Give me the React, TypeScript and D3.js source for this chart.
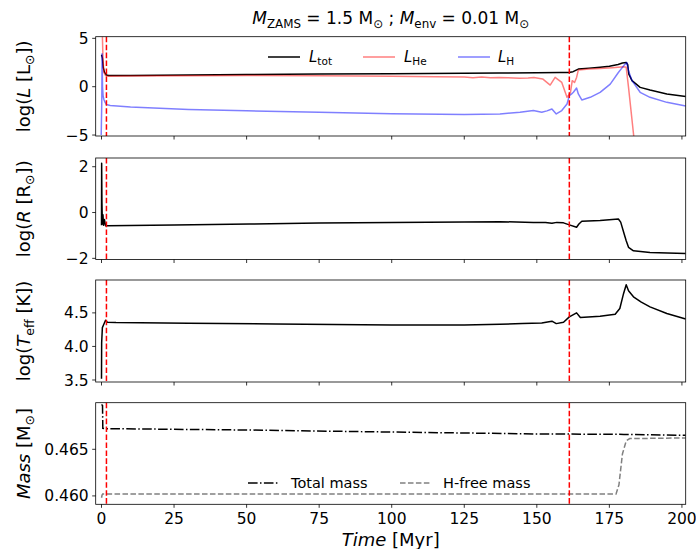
import React from "react";
import * as d3 from "d3";

// ---------- data ----------
const xTicks = [0, 25, 50, 75, 100, 125, 150, 175, 200];
const redLines = [1.7, 161.2];

const lTotT = [0, 0.3, 0.6, 1.0, 1.7, 2.5, 10, 30, 50, 75, 100, 125, 137, 150, 158, 161, 162.5, 164.3, 168, 171.8, 175, 178, 179.5, 180.8, 181.3, 181.7, 182.8, 185.6, 189, 194.8, 201.3];
const lTotV = [3.3, 3.0, 2.0, 1.5, 1.2, 1.15, 1.17, 1.22, 1.26, 1.31, 1.35, 1.39, 1.41, 1.44, 1.46, 1.47, 1.55, 1.82, 1.92, 2.02, 2.12, 2.3, 2.45, 2.5, 2.3, 1.3, 0.62, -0.07, -0.35, -0.75, -1.02];

const lHeT = [0, 0.3, 0.5, 0.8, 1.2, 1.7, 2.5, 10, 30, 50, 75, 100, 115, 125, 128, 131, 134, 137, 140, 144, 147, 149, 152, 154.6, 156.3, 158.6, 160.4, 161.6, 162.2, 163, 163.7, 164.3, 168, 171.8, 176, 179.9, 180.8, 181.6, 183.5];
const lHeV = [5.5, 5.3, 3.0, 1.5, 1.25, 1.1, 1.08, 1.1, 1.14, 1.15, 1.13, 1.08, 1.04, 1.0, 0.93, 1.0, 0.92, 0.96, 0.93, 0.86, 0.9, 0.96, 0.8, 0.17, 0.96, 0.44, -1.1, -0.6, 0.62, 0.44, 0.96, 1.72, 1.82, 1.89, 1.97, 2.06, 2.0, -0.07, -5.4];

const lHT = [-0.1, 0.1, 0.2, 0.35, 0.55, 0.8, 1.2, 1.7, 3, 10, 30, 50, 75, 100, 125, 137.3, 140, 144.2, 148.8, 151.7, 153.5, 155.2, 156.7, 158.6, 160.4, 161.2, 162, 162.6, 163.7, 164.3, 165.5, 168.4, 171.8, 175.3, 178.1, 180.1, 181, 181.6, 182.8, 185.6, 189, 194.8, 201.3];
const lHV = [-5.0, -1.5, 3.4, 0.0, -0.95, -1.3, -1.6, -1.85, -1.95, -2.1, -2.35, -2.5, -2.65, -2.8, -2.88, -2.82, -2.75, -2.65, -2.47, -2.65, -2.5, -2.3, -2.82, -2.47, -1.79, -0.93, -0.75, -0.58, -0.14, -0.75, -1.37, -1.1, -0.58, 0.27, 1.47, 2.23, 2.5, 1.65, 0.62, -0.58, -1.1, -1.62, -2.0];

const rT = [0, 0.05, 0.15, 0.3, 0.5, 0.7, 1.0, 1.4, 2, 25, 51, 75, 100, 125, 137.3, 148.8, 153, 155.2, 156.9, 159.2, 161.2, 163.7, 164.5, 165.5, 171.8, 178.1, 178.9, 180.1, 180.8, 181.6, 183.3, 189, 195, 201.3];
const rV = [-0.55, 2.15, 0.45, -0.5, -0.1, -0.55, -0.3, -0.58, -0.58, -0.54, -0.5, -0.46, -0.43, -0.41, -0.40, -0.43, -0.44, -0.47, -0.43, -0.45, -0.54, -0.64, -0.5, -0.38, -0.35, -0.28, -0.42, -0.94, -1.23, -1.52, -1.67, -1.74, -1.77, -1.79];

const tT = [0, 0.05, 0.3, 0.8, 1.4, 2, 5, 30, 60, 100, 125, 137.3, 145, 151.7, 155.2, 156.7, 159.2, 161.2, 163.7, 165, 171.8, 177, 178.6, 179.9, 180.8, 181.6, 183.3, 186, 189, 194.8, 201.3];
const tV = [3.52, 4.05, 4.28, 4.33, 4.39, 4.36, 4.355, 4.345, 4.335, 4.32, 4.32, 4.33, 4.34, 4.35, 4.376, 4.34, 4.36, 4.44, 4.5, 4.43, 4.45, 4.48, 4.565, 4.79, 4.92, 4.83, 4.74, 4.66, 4.59, 4.49, 4.41];

const mTotT = [0, 0.35, 0.45, 1, 50, 100, 150, 180, 201.3];
const mTotV = [0.4698, 0.4697, 0.46725, 0.46722, 0.46707, 0.46685, 0.46665, 0.4666, 0.4665];

const mHT = [0, 0.2, 0.4, 177.3, 178.3, 179.5, 180.8, 182, 201.3];
const mHV = [0.4598, 0.4601, 0.46021, 0.46021, 0.4612, 0.4645, 0.4659, 0.46615, 0.46622];

const yTicks1 = [-5, 0, 5];
const yTicks2 = [-2, 0, 2];
const yTicks3 = [3.5, 4.0, 4.5];
const yTicks4 = [0.46, 0.465];

// ---------- layout ----------
const W = 696, H = 549;
const X0 = 95.7, X1 = 685.7;
const FONT = "DejaVu Sans";

const x = d3.scaleLinear().domain([-2.0, 201.3]).range([X0, X1]);

const panels = [
  { top: 36.7, bottom: 136, domain: [-5.1, 5.17], ticks: yTicks1, fmt: (v: number) => (v < 0 ? "\u2212" + Math.abs(v) : String(v)) },
  { top: 158, bottom: 259.5, domain: [-2.05, 2.38], ticks: yTicks2, fmt: (v: number) => (v < 0 ? "\u2212" + Math.abs(v) : String(v)) },
  { top: 280, bottom: 382, domain: [3.47, 4.99], ticks: yTicks3, fmt: (v: number) => v.toFixed(1) },
  { top: 402.7, bottom: 504.3, domain: [0.4591, 0.47], ticks: yTicks4, fmt: (v: number) => v.toFixed(3) },
];
const yScales = panels.map((p) => d3.scaleLinear().domain(p.domain).range([p.bottom, p.top]));

function pathOf(ts: number[], vs: number[], y: d3.ScaleLinear<number, number>) {
  const line = d3.line<number>().x((_, i) => x(ts[i])).y((_, i) => y(vs[i]));
  return line(ts.map((_, i) => i)) || "";
}

const DASH = "5.55,2.4";
const DASHDOT = "9.6,2.4,1.5,2.4";

function Sub({ children, size }: { children: React.ReactNode; size: number }) {
  return (
    <tspan fontSize={size * 0.7} dy={size * 0.22}>
      {children}
    </tspan>
  );
}

export default function App() {
  const [y1, y2, y3, y4] = yScales;
  const TS = 17;
  return (
    <svg width={W} height={H} style={{ position: "absolute", left: 0, top: 0, background: "white" }} fontFamily={FONT}>
      <defs>
        {panels.map((p, i) => (
          <clipPath id={`clip${i}`} key={i}>
            <rect x={X0} y={p.top} width={X1 - X0} height={p.bottom - p.top} />
          </clipPath>
        ))}
      </defs>

      {/* title */}
      <text x={390.7} y={24} fontSize={TS} textAnchor="middle">
        <tspan fontStyle="italic">M</tspan>
        <Sub size={TS}>ZAMS</Sub>
        <tspan dy={-TS * 0.22}> = 1.5 M</tspan>
        <Sub size={TS}>⊙</Sub>
        <tspan dy={-TS * 0.22}> ; </tspan>
        <tspan fontStyle="italic">M</tspan>
        <Sub size={TS}>env</Sub>
        <tspan dy={-TS * 0.22}> = 0.01 M</tspan>
        <Sub size={TS}>⊙</Sub>
      </text>

      {/* data lines */}
      <g clipPath="url(#clip0)" fill="none" strokeWidth={1.5} strokeLinejoin="round">
        <path d={pathOf(lTotT, lTotV, y1)} stroke="black" />
        <path d={pathOf(lHeT, lHeV, y1)} stroke="red" strokeOpacity={0.5} />
        <path d={pathOf(lHT, lHV, y1)} stroke="blue" strokeOpacity={0.5} />
      </g>
      <g clipPath="url(#clip1)" fill="none" strokeWidth={1.5} strokeLinejoin="round">
        <path d={pathOf(rT, rV, y2)} stroke="black" />
      </g>
      <g clipPath="url(#clip2)" fill="none" strokeWidth={1.5} strokeLinejoin="round">
        <path d={pathOf(tT, tV, y3)} stroke="black" />
      </g>
      <g clipPath="url(#clip3)" fill="none" strokeWidth={1.5}>
        <path d={pathOf(mTotT, mTotV, y4)} stroke="black" strokeDasharray={DASHDOT} />
        <path d={pathOf(mHT, mHV, y4)} stroke="gray" strokeDasharray={DASH} />
      </g>

      {/* red vertical dashed lines */}
      {panels.map((p, i) =>
        redLines.map((t, j) => (
          <line key={`${i}-${j}`} x1={x(t)} x2={x(t)} y1={p.top} y2={p.bottom} stroke="red" strokeWidth={1.5} strokeDasharray={DASH} />
        ))
      )}

      {/* axes */}
      {panels.map((p, i) => (
        <g key={`ax${i}`}>
          <rect x={X0} y={p.top} width={X1 - X0} height={p.bottom - p.top} fill="none" stroke="black" strokeWidth={0.8} />
          {xTicks.map((t) => (
            <line key={t} x1={x(t)} x2={x(t)} y1={p.bottom} y2={p.bottom + 3.5} stroke="black" strokeWidth={0.8} />
          ))}
          {p.ticks.map((v) => (
            <g key={v}>
              <line x1={X0 - 3.5} x2={X0} y1={yScales[i](v)} y2={yScales[i](v)} stroke="black" strokeWidth={0.8} />
              <text x={X0 - 7} y={yScales[i](v)} dy="0.36em" fontSize={15.5} textAnchor="end">
                {p.fmt(v)}
              </text>
            </g>
          ))}
        </g>
      ))}

      {/* x tick labels */}
      {xTicks.map((t) => (
        <text key={t} x={x(t)} y={523.5} fontSize={15.5} textAnchor="middle">
          {t}
        </text>
      ))}
      <text x={390.7} y={546} fontSize={18} textAnchor="middle">
        <tspan fontStyle="italic">Time</tspan> [Myr]
      </text>

      {/* y labels */}
      <text transform={`translate(30,${(panels[0].top + panels[0].bottom) / 2}) rotate(-90)`} fontSize={18} textAnchor="middle">
        log(<tspan fontStyle="italic">L</tspan> [L<Sub size={18}>⊙</Sub>
        <tspan dy={-18 * 0.22}>])</tspan>
      </text>
      <text transform={`translate(30,${(panels[1].top + panels[1].bottom) / 2}) rotate(-90)`} fontSize={18} textAnchor="middle">
        log(<tspan fontStyle="italic">R</tspan> [R<Sub size={18}>⊙</Sub>
        <tspan dy={-18 * 0.22}>])</tspan>
      </text>
      <text transform={`translate(30,${(panels[2].top + panels[2].bottom) / 2}) rotate(-90)`} fontSize={18} textAnchor="middle">
        log(<tspan fontStyle="italic">T</tspan>
        <Sub size={18}>eff</Sub>
        <tspan dy={-18 * 0.22}> [K])</tspan>
      </text>
      <text transform={`translate(30,${(panels[3].top + panels[3].bottom) / 2}) rotate(-90)`} fontSize={18} textAnchor="middle">
        <tspan fontStyle="italic">Mass</tspan> [M<Sub size={18}>⊙</Sub>
        <tspan dy={-18 * 0.22}>]</tspan>
      </text>

      {/* legend panel 1 */}
      <g fontSize={15}>
        <line x1={268} x2={300} y1={57} y2={57} stroke="black" strokeWidth={1.5} />
        <text x={309} y={62}>
          <tspan fontStyle="italic">L</tspan>
          <Sub size={15}>tot</Sub>
        </text>
        <line x1={363} x2={395} y1={57} y2={57} stroke="red" strokeOpacity={0.5} strokeWidth={1.5} />
        <text x={404} y={62}>
          <tspan fontStyle="italic">L</tspan>
          <Sub size={15}>He</Sub>
        </text>
        <line x1={458} x2={490} y1={57} y2={57} stroke="blue" strokeOpacity={0.5} strokeWidth={1.5} />
        <text x={498} y={62}>
          <tspan fontStyle="italic">L</tspan>
          <Sub size={15}>H</Sub>
        </text>
      </g>

      {/* legend panel 4 */}
      <g fontSize={14.5}>
        <line x1={248} x2={278} y1={483} y2={483} stroke="black" strokeWidth={1.5} strokeDasharray={DASHDOT} />
        <text x={291} y={488}>Total mass</text>
        <line x1={400} x2={430} y1={483} y2={483} stroke="gray" strokeWidth={1.5} strokeDasharray={DASH} />
        <text x={443} y={488}>H-free mass</text>
      </g>
    </svg>
  );
}
